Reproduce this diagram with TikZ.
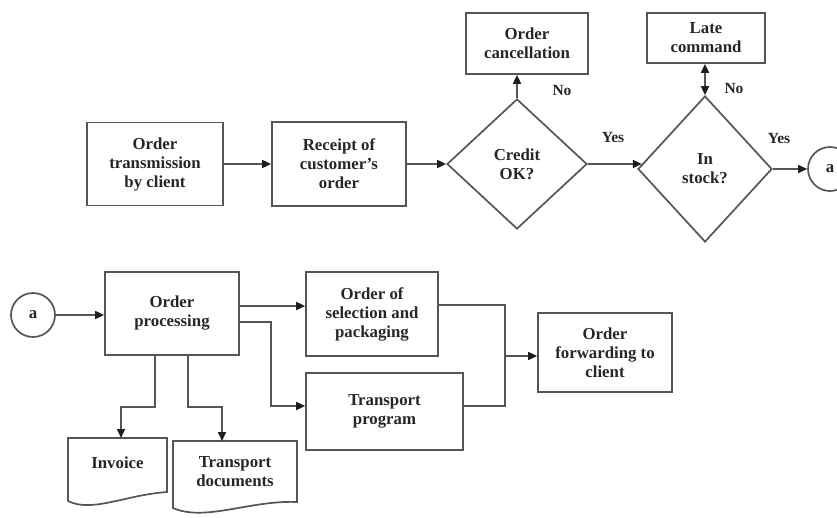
\documentclass[tikz,border=0pt]{standalone}
\usepackage{fontspec}
\setmainfont{Liberation Serif}
\usetikzlibrary{arrows.meta,shapes.geometric,calc}
\definecolor{lnc}{HTML}{555555}
\definecolor{txc}{HTML}{262626}
\definecolor{tipc}{HTML}{1E1E1E}
\begin{document}
\begin{tikzpicture}[x=1pt,y=-1pt,
  every node/.style={font=\bfseries\fontsize{16.8}{19}\selectfont, text=txc, align=center},
  box/.style={draw=lnc, line width=1.7pt, rectangle, inner sep=0pt},
  dia/.style={draw=lnc, line width=1.7pt, diamond, inner sep=0pt, aspect=1},
  con/.style={draw=lnc, line width=1.7pt, circle, inner sep=0pt, minimum size=44pt},
  tipa/.tip={Triangle[length=9pt,width=8pt,color=tipc]},
  arr/.style={draw=lnc, line width=1.7pt, -tipa},
  lnk/.style={draw=lnc, line width=1.7pt},
  lab/.style={font=\bfseries\fontsize{15.5}{18}\selectfont}
]
\useasboundingbox (0,0) rectangle (837,517);

% top row
\node[box, minimum width=136pt, minimum height=83pt] (b1) at (155,164) {Order\\transmission\\by client};
\node[box, minimum width=134pt, minimum height=84pt] (b2) at (339,164) {Receipt of\\customer’s\\order};
\node[dia, minimum width=140pt, minimum height=130pt] (cr) at (517,164) {Credit\\OK?};
\node[dia, minimum width=134pt, minimum height=146pt] (st) at (705,169) {In\\stock?};
\node[box, minimum width=122pt, minimum height=61pt] (cc) at (527,43.5) {Order\\cancellation};
\node[box, minimum width=118pt, minimum height=50pt] (lc) at (706,38) {Late\\command};
\node[con] (a1) at (830,169) {a};

\node[lab] (no1) at (562,90) {No};
\node[lab] (no2) at (734,88) {No};
\node[lab] (yes1) at (613,137) {Yes};
\node[lab] (yes2) at (779,138) {Yes};

\draw[arr] (b1.east) -- (b2.west);
\draw[arr] (b2.east) -- (cr.west);
\draw[arr] (cr.north) -- (cr.north |- cc.south);
\draw[arr] (cr.east) -- ($(st.west)!0.0685!(st.north)$);
\draw[lnk, tipa-tipa] (st.north) -- (st.north |- lc.south);
\draw[arr] (st.east) -- (a1);

% bottom row
\node[con] (a2) at (33,315) {a};
\node[box, minimum width=134pt, minimum height=83pt] (op) at (172,313.5) {Order\\processing};
\node[box, minimum width=132pt, minimum height=84pt] (sp) at (372,314) {Order of\\selection and\\packaging};
\node[box, minimum width=157pt, minimum height=77pt] (tp) at (384.5,411.5) {Transport\\program};
\node[box, minimum width=134pt, minimum height=79pt] (fw) at (605,352.5) {Order\\forwarding to\\client};

% documents
\node (inv) at (117.5,463) {Invoice};
\node (td) at (235,471.5) {Transport\\documents};
\coordinate (invtop) at (121,438);
\coordinate (tdtop) at (222,441);
\draw[lnk] (68,438) -- (167,438) -- (167,492) .. controls (125,495) and (92,513) .. (68,501) -- cycle;
\draw[lnk] (173,441) -- (297,441) -- (297,502) .. controls (250,500) and (205,522) .. (173,508) -- cycle;

\coordinate (mg) at (505,356);

\draw[arr] (a2.east) -- (a2.east -| op.west);
\draw[arr] ([yshift=7.5pt]op.east) -- ([yshift=7.5pt]op.east -| sp.west);
\draw[arr] ([yshift=-8.5pt]op.east) -- ++(31,0) |- ([yshift=5.5pt]tp.west);
\draw[lnk] ([yshift=9pt]sp.east) -| (mg) |- ([yshift=5.5pt]tp.east);
\draw[arr] (mg) -- (mg -| fw.west);
\draw[arr] ([xshift=-17pt]op.south) -- ++(0,51) -| (invtop);
\draw[arr] ([xshift=16pt]op.south) -- ++(0,51) -| (tdtop);
\end{tikzpicture}
\end{document}
